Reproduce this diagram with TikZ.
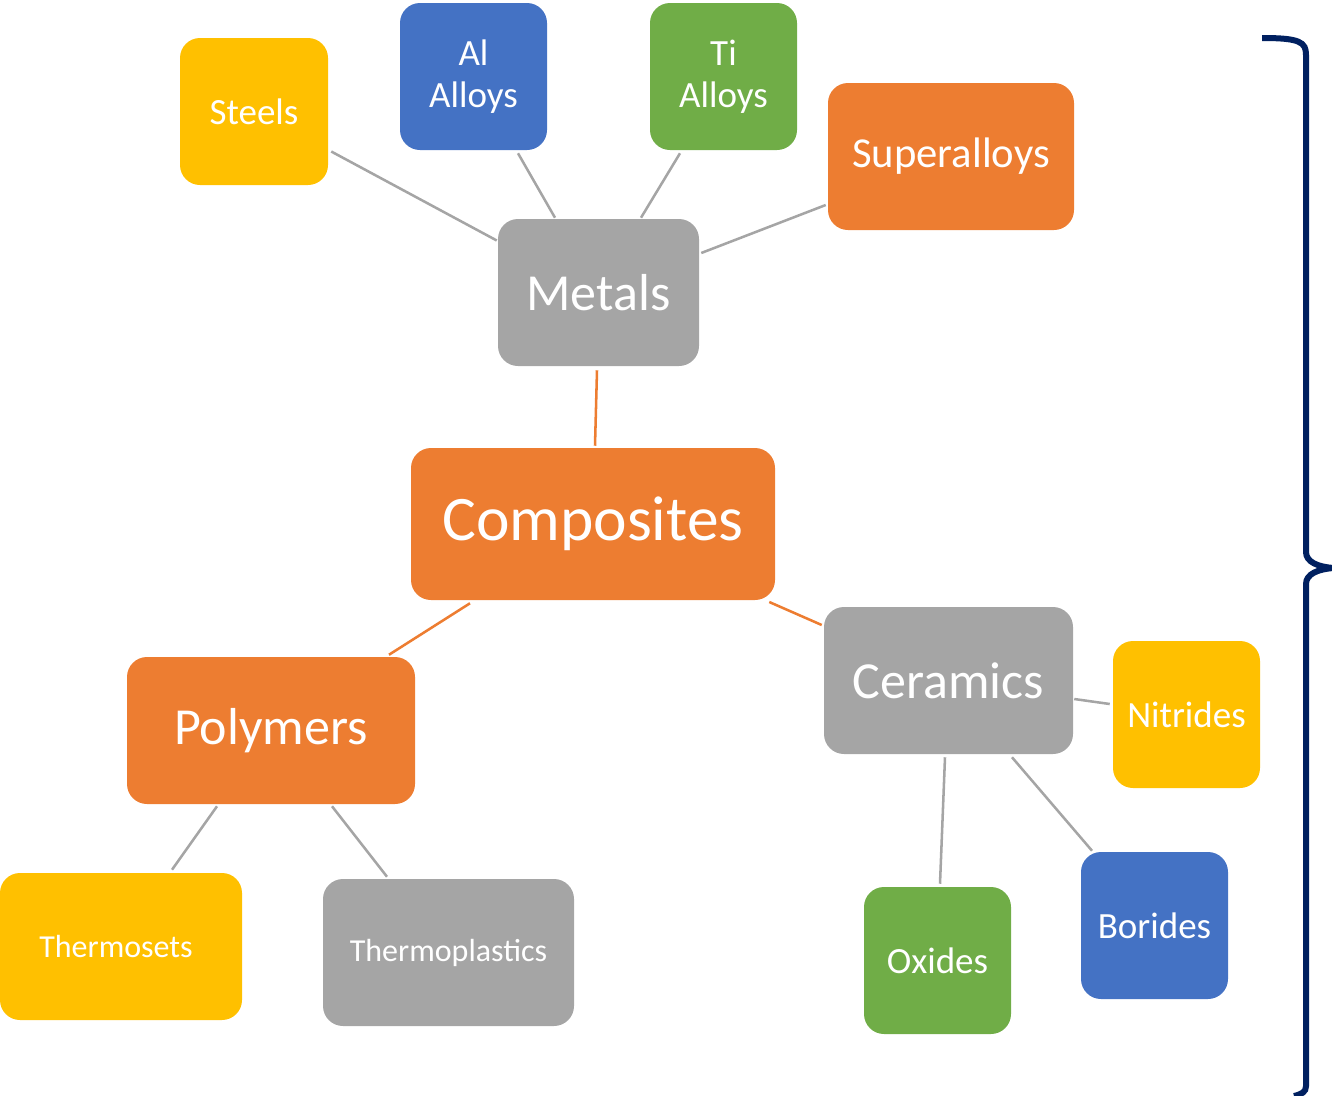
\documentclass[tikz,border=0pt]{standalone}
\usepackage{fontspec}
\setmainfont{Carlito}
\definecolor{cOrange}{HTML}{ED7D31}
\definecolor{cGray}{HTML}{A5A5A5}
\definecolor{cYellow}{HTML}{FFC000}
\definecolor{cBlue}{HTML}{4472C4}
\definecolor{cGreen}{HTML}{70AD47}
\definecolor{cNavy}{HTML}{002060}
\tikzset{
  box/.style={rectangle, rounded corners=15pt, inner sep=0pt, text=white, align=center},
  wh/.style 2 args={minimum width=#1*0.75pt, minimum height=#2*0.75pt},
  fs/.style={font=\fontsize{#1}{31.5}\selectfont},
  link/.style={draw=cGray, line width=1.9pt},
  mainlink/.style={draw=cOrange, line width=1.9pt},
}
\begin{document}
\begin{tikzpicture}[x=0.75pt, y=-0.75pt]
\useasboundingbox (0,0) rectangle (1332,1096);

% metal branch
\node[box, fill=cYellow, wh={148}{147}, fs=27.75] (steels) at (254,111.5) {Steels};
\node[box, fill=cBlue, wh={147}{147}, fs=27.75] (al) at (473.5,76.5) {Al\\Alloys};
\node[box, fill=cGreen, wh={147}{147}, fs=27.75] (ti) at (723.5,76.5) {Ti\\Alloys};
\node[box, fill=cOrange, wh={246}{147}, fs=32] (super) at (951,156.5) {Superalloys};
\node[box, fill=cGray, wh={201}{147}, fs=39] (metals) at (598.5,292.5) {Metals};

% centre
\node[box, fill=cOrange, wh={364}{152}, fs=47.6] (comp) at (593,524) {Composites};

% polymer branch
\node[box, fill=cOrange, wh={288}{147}, fs=39] (poly) at (271,730.5) {Polymers};
\node[box, fill=cYellow, wh={242}{147}, fs=24] (tset) at (121,946.5) {Thermosets\hspace*{7.5pt}};
\node[box, fill=cGray, wh={251}{147}, fs=24] (tplast) at (448.5,952.5) {Thermoplastics};

% ceramic branch
\node[box, fill=cGray, wh={249}{147}, fs=39] (cer) at (948.5,680.5) {Ceramics};
\node[box, fill=cYellow, wh={147}{147}, fs=27.75] (nitr) at (1186.5,714.5) {Nitrides};
\node[box, fill=cGreen, wh={147}{147}, fs=27.75] (oxi) at (937.5,960.5) {Oxides};
\node[box, fill=cBlue, wh={147}{147}, fs=27.75] (bor) at (1154.5,925.5) {Borides};

% connectors
\draw[link] ([shift={(3,40)}]steels.east) -- ([shift={(-1,-52)}]metals.west);
\draw[link] ([shift={(44.5,3)}]al.south) -- ([shift={(-43.5,-1)}]metals.north);
\draw[link] ([shift={(-43.5,3)}]ti.south) -- ([shift={(42.5,-1)}]metals.north);
\draw[link] ([shift={(-2,48.5)}]super.west) -- ([shift={(2,-39.5)}]metals.east);
\draw[mainlink] ([shift={(-1.5,4)}]metals.south) -- ([shift={(2,-2)}]comp.north);
\draw[mainlink] ([shift={(-123,3)}]comp.south) -- ([shift={(118,-2)}]poly.north);
\draw[mainlink] ([shift={(-6,78)}]comp.east) -- ([shift={(-2,-55.5)}]cer.west);
\draw[link] ([shift={(-54,2)}]poly.south) -- ([shift={(51,-3)}]tset.north);
\draw[link] ([shift={(61,2)}]poly.south) -- ([shift={(-61.5,-2)}]tplast.north);
\draw[link] ([shift={(1,18.5)}]cer.east) -- ([shift={(-3,-10.5)}]nitr.west);
\draw[link] ([shift={(-3.5,3)}]cer.south) -- ([shift={(2.5,-3)}]oxi.north);
\draw[link] ([shift={(63.5,3)}]cer.south) -- ([shift={(-62.5,-1)}]bor.north);

% right-hand brace
\draw[cNavy, line width=4.5pt]
  (1262,38) .. controls (1300,38) and (1306,42) .. (1306,55)
  -- (1306,552)
  .. controls (1306,562) and (1318,567) .. (1334,568)
  .. controls (1318,569) and (1306,574) .. (1306,584)
  -- (1306,1086)
  .. controls (1306,1092) and (1302,1094) .. (1294,1096);
\end{tikzpicture}
\end{document}
